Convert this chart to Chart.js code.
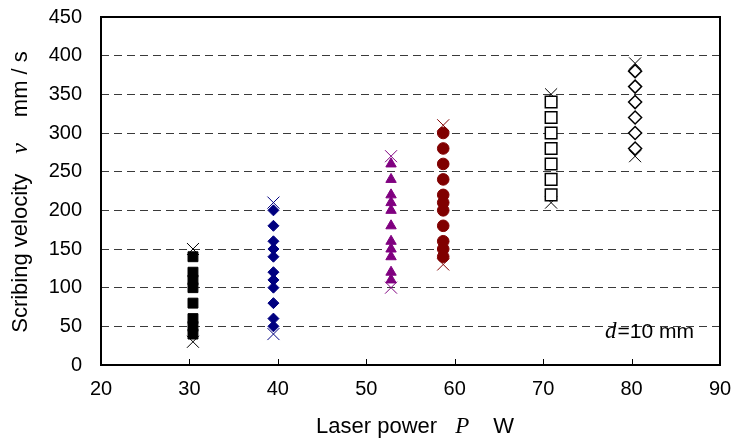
<!DOCTYPE html>
<html>
<head>
<meta charset="utf-8">
<script src="https://cdn.jsdelivr.net/npm/chart.js@4"></script>
<style>
  html, body { margin: 0; padding: 0; background: #fff; }
  canvas { display: block; }
</style>
</head>
<body>
<canvas id="chart" width="734" height="448"></canvas>
<script>
// laser power of each test series (W)
const powerLevels = [30.4, 39.5, 52.8, 58.7, 70.9, 80.4];
// scribing velocities of each series (mm/s)
const velBlack = [40, 50, 60, 80, 100, 110, 120, 140];
const velNavy = [50, 60, 80, 100, 110, 120, 140, 150, 160, 180, 200];
const velPurple = [110, 120, 140, 150, 160, 180, 200, 210, 220, 240, 260];
const velRed = [140, 150, 160, 180, 200, 210, 220, 240, 260, 280, 300];
const velOpenSquare = [220, 240, 260, 280, 300, 320, 340];
const velOpenDiamond = [280, 300, 320, 340, 360, 380];
// failed limits (crosses)
const limitLow = [30, 40, 100, 130, 210, 270];
const limitHigh = [150, 210, 270, 310, 350, 390];
const xTicks = [20, 30, 40, 50, 60, 70, 80, 90];
const yTicks = [0, 50, 100, 150, 200, 250, 300, 350, 400, 450];

const SANS = '"Liberation Sans", Arial, sans-serif';
const SERIF = '"Liberation Serif", "Times New Roman", serif';

const seriesStyle = [
    { vals: velBlack, color: '#000000', fill: '#000000', style: 'rect', r: 7, w: 1 },
    { vals: velNavy, color: '#000080', fill: '#000080', style: 'rectRot', r: 5.5, w: 1 },
    { vals: velPurple, color: '#800080', fill: '#800080', style: 'triangle', r: 6, w: 1 },
    { vals: velRed, color: '#800000', fill: '#800000', style: 'circle', r: 5.8, w: 1 },
    { vals: velOpenSquare, color: '#000000', fill: '#ffffff', style: 'rect', r: 8.2, w: 1.5 },
    { vals: velOpenDiamond, color: '#000000', fill: '#ffffff', style: 'rectRot', r: 6.5, w: 1.5 },
];

const datasets = [];
seriesStyle.forEach(function (s, i) {
    datasets.push({
        data: s.vals.map(v => ({ x: powerLevels[i], y: v })),
        pointStyle: s.style,
        pointRadius: s.r,
        backgroundColor: s.fill,
        borderColor: s.color,
        borderWidth: s.w,
        showLine: false,
    });
    datasets.push({
        data: [{ x: powerLevels[i], y: limitLow[i] }, { x: powerLevels[i], y: limitHigh[i] }],
        pointStyle: 'crossRot',
        pointRadius: 8.5,
        borderColor: s.color,
        backgroundColor: s.color,
        borderWidth: 1,
        showLine: false,
    });
});

// draw mixed-font text runs, numbers are extra gaps in px
function drawRuns(ctx, runs, x, y, align) {
    let total = 0;
    runs.forEach(function (r) {
        if (typeof r === 'number') { total += r; return; }
        ctx.font = r[1];
        total += ctx.measureText(r[0]).width;
    });
    let cx = align === 'center' ? x - total / 2 : x;
    runs.forEach(function (r) {
        if (typeof r === 'number') { cx += r; return; }
        ctx.font = r[1];
        ctx.fillText(r[0], cx, y);
        cx += ctx.measureText(r[0]).width;
    });
}

const noPadding = function (scale) {
    scale.paddingTop = 0;
    scale.paddingBottom = 0;
    scale.paddingLeft = 0;
    scale.paddingRight = 0;
};

const framePlugin = {
    id: 'frame',
    afterDraw(chart) {
        const ctx = chart.ctx;
        const a = chart.chartArea;
        const xs = chart.scales.x;
        ctx.save();
        ctx.strokeStyle = '#000';
        ctx.lineWidth = 2;
        ctx.strokeRect(a.left, a.top, a.right - a.left, a.bottom - a.top);
        ctx.lineWidth = 1;
        xTicks.slice(1, -1).forEach(function (t) {
            const px = Math.round(xs.getPixelForValue(t)) + 0.5;
            ctx.beginPath();
            ctx.moveTo(px, a.bottom);
            ctx.lineTo(px, a.bottom - 6);
            ctx.stroke();
        });

        ctx.fillStyle = '#000';
        ctx.textBaseline = 'middle';
        // x axis title
        drawRuns(ctx, [
            ['Laser power', '22px ' + SANS], 18,
            ['P', 'italic 23px ' + SERIF], 24,
            ['W', '22px ' + SANS],
        ], 415, 427, 'center');

        // y axis title
        ctx.save();
        ctx.translate(21, 192);
        ctx.rotate(-Math.PI / 2);
        drawRuns(ctx, [
            ['Scribing velocity', '22px ' + SANS], 20,
            ['v', 'italic 24px ' + SERIF], 26,
            ['mm / s', '22px ' + SANS],
        ], 0, 0, 'center');
        ctx.restore();

        // annotation
        drawRuns(ctx, [
            ['d', 'italic 23px ' + SERIF], 1,
            ['=10 mm', '21px ' + SANS],
        ], 605, 332, 'left');
        ctx.restore();
    }
};

new Chart(document.getElementById('chart'), {
    type: 'scatter',
    data: { datasets: datasets },
    options: {
        responsive: false,
        animation: false,
        layout: { padding: { left: 0, top: 17, right: 14, bottom: 0 } },
        plugins: { legend: { display: false }, tooltip: { enabled: false } },
        scales: {
            x: {
                type: 'linear',
                min: 20,
                max: 90,
                afterBuildTicks: function (scale) {
                    scale.ticks = xTicks.map(v => ({ value: v }));
                },
                afterFit: function (scale) { scale.height = 83; noPadding(scale); },
                grid: { display: false, drawTicks: false },
                border: { display: false },
                ticks: { color: '#000', font: { family: SANS, size: 20 }, padding: 12, maxRotation: 0 },
            },
            y: {
                type: 'linear',
                min: 0,
                max: 450,
                afterBuildTicks: function (scale) {
                    scale.ticks = yTicks.map(v => ({ value: v }));
                },
                afterFit: function (scale) { scale.width = 101; noPadding(scale); },
                grid: {
                    drawTicks: false,
                    color: ctx => (ctx.tick && (ctx.tick.value === 0 || ctx.tick.value === 450)) ? 'rgba(0,0,0,0)' : '#3a3a3a',
                    lineWidth: 1,
                },
                border: { display: false, dash: [8, 5] },
                ticks: { color: '#000', font: { family: SANS, size: 20 }, padding: 19 },
            }
        }
    },
    plugins: [framePlugin]
});
</script>
</body>
</html>
